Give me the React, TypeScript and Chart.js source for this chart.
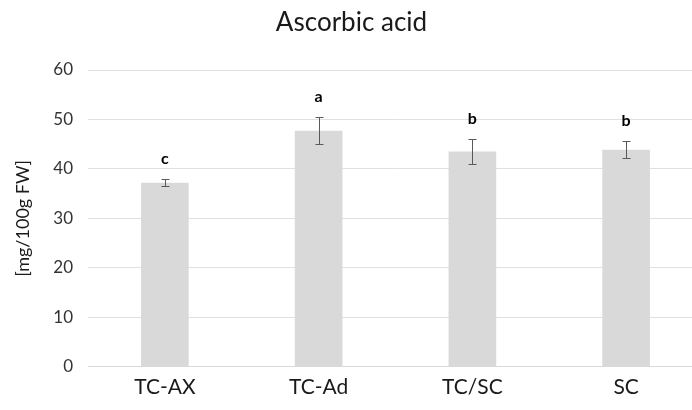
import { useEffect, useRef } from "react";
import { Chart, registerables } from "chart.js";

Chart.register(...registerables);

const categories = ["TC-AX", "TC-Ad", "TC/SC", "SC"];
const means = [37.2, 47.7, 43.5, 43.85];
const errors = [0.7, 2.7, 2.5, 1.7];
const letters = ["c", "a", "b", "b"];
const yMin = 0;
const yMax = 60;
const yStep = 10;

const FONT = "Lato, 'Open Sans', sans-serif";

const errPlugin = {
  id: "errbars",
  afterDatasetsDraw(chart: any) {
    const ctx = chart.ctx;
    const meta = chart.getDatasetMeta(0);
    const y = chart.scales.y;
    ctx.save();
    meta.data.forEach((bar: any, i: number) => {
      const x = Math.round(bar.x) + 0.5;
      const top = Math.round(y.getPixelForValue(means[i] + errors[i])) + 0.5;
      const bot = Math.round(y.getPixelForValue(means[i] - errors[i])) + 0.5;
      ctx.strokeStyle = "#595959";
      ctx.lineWidth = 1;
      ctx.beginPath();
      ctx.moveTo(x, top);
      ctx.lineTo(x, bot);
      ctx.moveTo(x - 4, top);
      ctx.lineTo(x + 4, top);
      ctx.moveTo(x - 4, bot);
      ctx.lineTo(x + 4, bot);
      ctx.stroke();
      ctx.fillStyle = "#000000";
      ctx.font = `bold 16px ${FONT}`;
      ctx.textAlign = "center";
      ctx.textBaseline = "middle";
      ctx.fillText(letters[i], bar.x, top - 21);
    });
    ctx.restore();
  },
};

export default function App() {
  const ref = useRef<HTMLCanvasElement | null>(null);

  useEffect(() => {
    document.body.style.margin = "0";
    if (!ref.current) return;
    const chart = new Chart(ref.current, {
      type: "bar",
      data: {
        labels: categories,
        datasets: [
          {
            data: means,
            backgroundColor: "#d9d9d9",
            barPercentage: 0.31,
            categoryPercentage: 1,
          },
        ],
      },
      options: {
        responsive: false,
        animation: false,
        devicePixelRatio: 1,
        layout: { padding: { left: 0, right: 2, top: 0, bottom: 0 } },
        plugins: {
          legend: { display: false },
          tooltip: { enabled: false },
          title: {
            display: true,
            text: "Ascorbic acid",
            color: "#1a1a1a",
            font: { family: FONT, size: 26, weight: "normal" },
            padding: { top: 7.4, bottom: 31.4 },
          },
        },
        scales: {
          x: {
            grid: { display: false, drawTicks: false },
            border: { display: true, color: "#d9d9d9" },
            ticks: {
              color: "#1a1a1a",
              font: { family: FONT, size: 21 },
              padding: 8,
            },
            afterFit: (s: any) => {
              s.height = 43.3;
            },
          },
          y: {
            min: yMin,
            max: yMax,
            ticks: {
              stepSize: yStep,
              color: "#333333",
              font: { family: FONT, size: 17 },
              padding: 15,
            },
            grid: { color: "#e0e0e0", drawTicks: false },
            border: { display: false },
            title: {
              display: true,
              text: "[mg/100g FW]",
              color: "#1a1a1a",
              font: { family: FONT, size: 18 },
              padding: { top: 12, bottom: 0 },
            },
            afterFit: (s: any) => {
              s.width = 88;
            },
          },
        },
      },
      plugins: [errPlugin],
    });
    return () => chart.destroy();
  }, []);

  return (
    <div style={{ position: "relative", width: 692, height: 410, overflow: "hidden", background: "#fff" }}>
      <canvas ref={ref} width={705} height={410} style={{ width: 705, height: 410, display: "block" }} />
    </div>
  );
}
